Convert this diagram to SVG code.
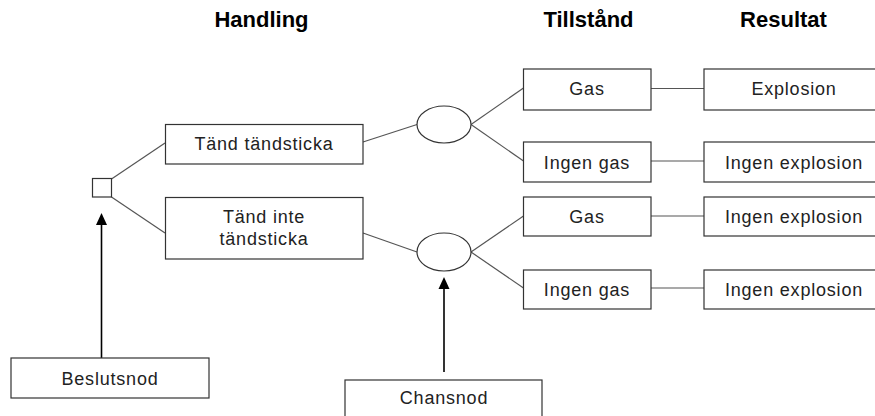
<svg xmlns="http://www.w3.org/2000/svg" width="875" height="416" viewBox="0 0 875 416">
<style>
.box{fill:#fff;stroke:#333;stroke-width:1.2}
.t{font-family:"Liberation Sans",Arial,sans-serif;font-size:18px;letter-spacing:0.8px;fill:#222;text-anchor:middle}
.h{font-family:"Liberation Sans",Arial,sans-serif;font-size:22px;font-weight:bold;fill:#000;text-anchor:middle}
.c{stroke:#555;stroke-width:1.2;fill:none}
.a{stroke:#000;stroke-width:1.6;fill:none}
.ah{fill:#000}
</style>
<rect width="875" height="416" fill="#fff"/>
<g id="headers">
<text class="h" x="261.5" y="27">Handling</text>
<text class="h" x="588.5" y="27">Tillstånd</text>
<text class="h" x="783.5" y="27">Resultat</text>
</g>
<g id="connectors">
<line class="c" x1="111.5" y1="179" x2="165" y2="143"/>
<line class="c" x1="111.5" y1="197" x2="165" y2="233"/>
<line class="c" x1="363" y1="142" x2="417" y2="124.5"/>
<line class="c" x1="363" y1="233" x2="417" y2="252"/>
<line class="c" x1="471" y1="124.5" x2="523.5" y2="88"/>
<line class="c" x1="471" y1="124.5" x2="523.5" y2="161"/>
<line class="c" x1="471" y1="252" x2="523.5" y2="216"/>
<line class="c" x1="471" y1="252" x2="523.5" y2="288"/>
<line class="c" x1="651" y1="88.5" x2="704" y2="88.5"/>
<line class="c" x1="651" y1="161" x2="704" y2="161"/>
<line class="c" x1="651" y1="216" x2="704" y2="216"/>
<line class="c" x1="651" y1="288" x2="704" y2="288"/>
<line class="a" x1="101.5" y1="358" x2="101.5" y2="222"/>
<polygon class="ah" points="101.5,213 107,225 96,225"/>
<line class="a" x1="444" y1="372" x2="444" y2="286"/>
<polygon class="ah" points="444,277 449.5,289 438.5,289"/>
</g>
<g id="beslut-square"><rect class="box" x="92.5" y="178.5" width="19" height="18.5"/></g>
<g id="tand"><rect class="box" x="165.5" y="124.5" width="197.5" height="39.5"/><text class="t" x="264" y="150">Tänd tändsticka</text></g>
<g id="tand-inte"><rect class="box" x="165.5" y="197.5" width="197.5" height="61.5"/><text class="t" x="264" y="223">Tänd inte</text><text class="t" x="264" y="245">tändsticka</text></g>
<g id="chance1"><ellipse class="box" cx="444" cy="124.5" rx="27" ry="18.5"/></g>
<g id="chance2"><ellipse class="box" cx="444" cy="252" rx="27" ry="19"/></g>
<g id="gas1"><rect class="box" x="523.5" y="69" width="127.5" height="41"/><text class="t" x="587" y="95">Gas</text></g>
<g id="ingengas1"><rect class="box" x="523.5" y="142" width="127.5" height="40"/><text class="t" x="587" y="168.5">Ingen gas</text></g>
<g id="gas2"><rect class="box" x="523.5" y="197" width="127.5" height="39"/><text class="t" x="587" y="223">Gas</text></g>
<g id="ingengas2"><rect class="box" x="523.5" y="270" width="127.5" height="39"/><text class="t" x="587" y="295.5">Ingen gas</text></g>
<g id="res1"><rect class="box" x="704" y="69" width="180" height="41"/><text class="t" x="794" y="95">Explosion</text></g>
<g id="res2"><rect class="box" x="704" y="142" width="180" height="40"/><text class="t" x="794" y="168.5">Ingen explosion</text></g>
<g id="res3"><rect class="box" x="704" y="197" width="180" height="39"/><text class="t" x="794" y="223">Ingen explosion</text></g>
<g id="res4"><rect class="box" x="704" y="270" width="180" height="39"/><text class="t" x="794" y="295.5">Ingen explosion</text></g>
<g id="beslutsnod"><rect class="box" x="11" y="358" width="198" height="40"/><text class="t" x="110" y="385">Beslutsnod</text></g>
<g id="chansnod"><rect class="box" x="345" y="380" width="197" height="45"/><text class="t" x="444" y="404">Chansnod</text></g>
</svg>
